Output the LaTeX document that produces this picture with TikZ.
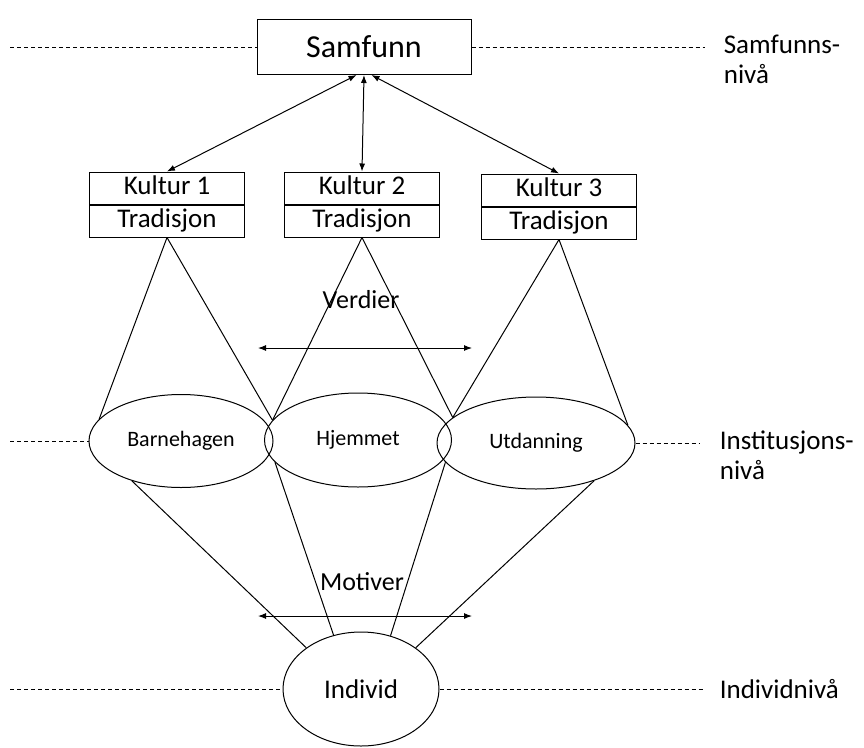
\documentclass[tikz,border=0pt]{standalone}
\usepackage{fontspec}
\setmainfont{Carlito}
\usetikzlibrary{shapes,positioning,arrows.meta}
\tikzset{
  lvl/.style={dash pattern=on 4pt off 3pt},
  kbox/.style={draw, minimum width=155pt, minimum height=32pt, inner sep=0pt,
    text height=17pt, text depth=5pt, font=\fontsize{27}{30}\selectfont},
  inst/.style={draw, ellipse, inner sep=0pt, font=\fontsize{22}{26}\selectfont},
  lvltext/.style={anchor=west, align=left, font=\fontsize{27}{30}\selectfont},
  midtext/.style={font=\fontsize{26}{30}\selectfont},
}

\begin{document}
\begin{tikzpicture}[x=1pt,y=-1pt,line width=1pt,>={Latex[length=8pt,width=6pt]}]
\useasboundingbox (0,0) rectangle (864,747);

% samfunnsniva
\node[draw, minimum width=214pt, minimum height=55pt, font=\fontsize{32}{36}\selectfont] (samfunn) at (364,47) {Samfunn};
\node[kbox] (k1a) at (167,188) {Kultur 1};
\node[kbox, below=0pt of k1a] (k1b) {Tradisjon};
\node[kbox] (k2a) at (362,188) {Kultur 2};
\node[kbox, below=0pt of k2a] (k2b) {Tradisjon};
\node[kbox] (k3a) at (559,190) {Kultur 3};
\node[kbox, below=0pt of k3a] (k3b) {Tradisjon};
\draw[<->] (samfunn.-105) -- (k1a.north);
\draw[<->] (samfunn.south) -- (k2a.north);
\draw[<->] (samfunn.-75) -- (k3a.north);

% institusjonsniva
\node[inst, minimum width=184pt, minimum height=93pt] (barn) at (181,441) {Barnehagen};
\node[inst, minimum width=187pt, minimum height=94pt] (hjem) at (358,440) {Hjemmet};
\node[inst, minimum width=198pt, minimum height=92pt] (utd) at (536,443) {Utdanning};
\draw (k1b.south) -- (barn.165);
\draw (k1b.south) -- (hjem.167);
\draw (k2b.south) -- (hjem.167);
\draw (k2b.south) -- (utd.163);
\draw (k3b.south) -- (utd.163);
\draw (k3b.south) -- (utd.11);

\node[midtext] (verdier) at (361,300) {Verdier};
\coordinate (v-l) at (258,348);
\coordinate (v-r) at (472,348);
\draw[<->] (v-l) -- (v-r);

% individniva
\node[draw, ellipse, minimum width=156pt, minimum height=114pt, inner sep=0pt, font=\fontsize{27}{30}\selectfont] (individ) at (361,689) {Individ};
\draw (barn.219) -- (individ.143);
\draw (hjem.195) -- (individ.117);
\draw (utd.192) -- (individ.61);
\draw (utd.327) -- (individ.37);

\node[midtext] (motiver) at (362,582) {Motiver};
\coordinate (m-l) at (258,616);
\coordinate (m-r) at (472,616);
\draw[<->] (m-l) -- (m-r);

% nivalinjer
\coordinate (s-l) at (10,47);
\coordinate (s-r) at (705,47);
\coordinate (i-l) at (10,441);
\coordinate (i-r) at (700,443);
\coordinate (n-l) at (10,689);
\coordinate (n-r) at (705,689);
\draw[lvl] (s-l) -- (samfunn.west);
\draw[lvl] (samfunn.east) -- (s-r);
\draw[lvl] (i-l) -- (barn.west);
\draw[lvl] (utd.east) -- (i-r);
\draw[lvl] (n-l) -- (individ.west);
\draw[lvl] (individ.east) -- (n-r);
\node[lvltext] (t-samfunn) at (720,59) {Samfunns-\\nivå};
\node[lvltext] (t-inst) at (716,455) {Institusjons-\\nivå};
\node[lvltext] (t-individ) at (716,689) {Individnivå};
\end{tikzpicture}
\end{document}
